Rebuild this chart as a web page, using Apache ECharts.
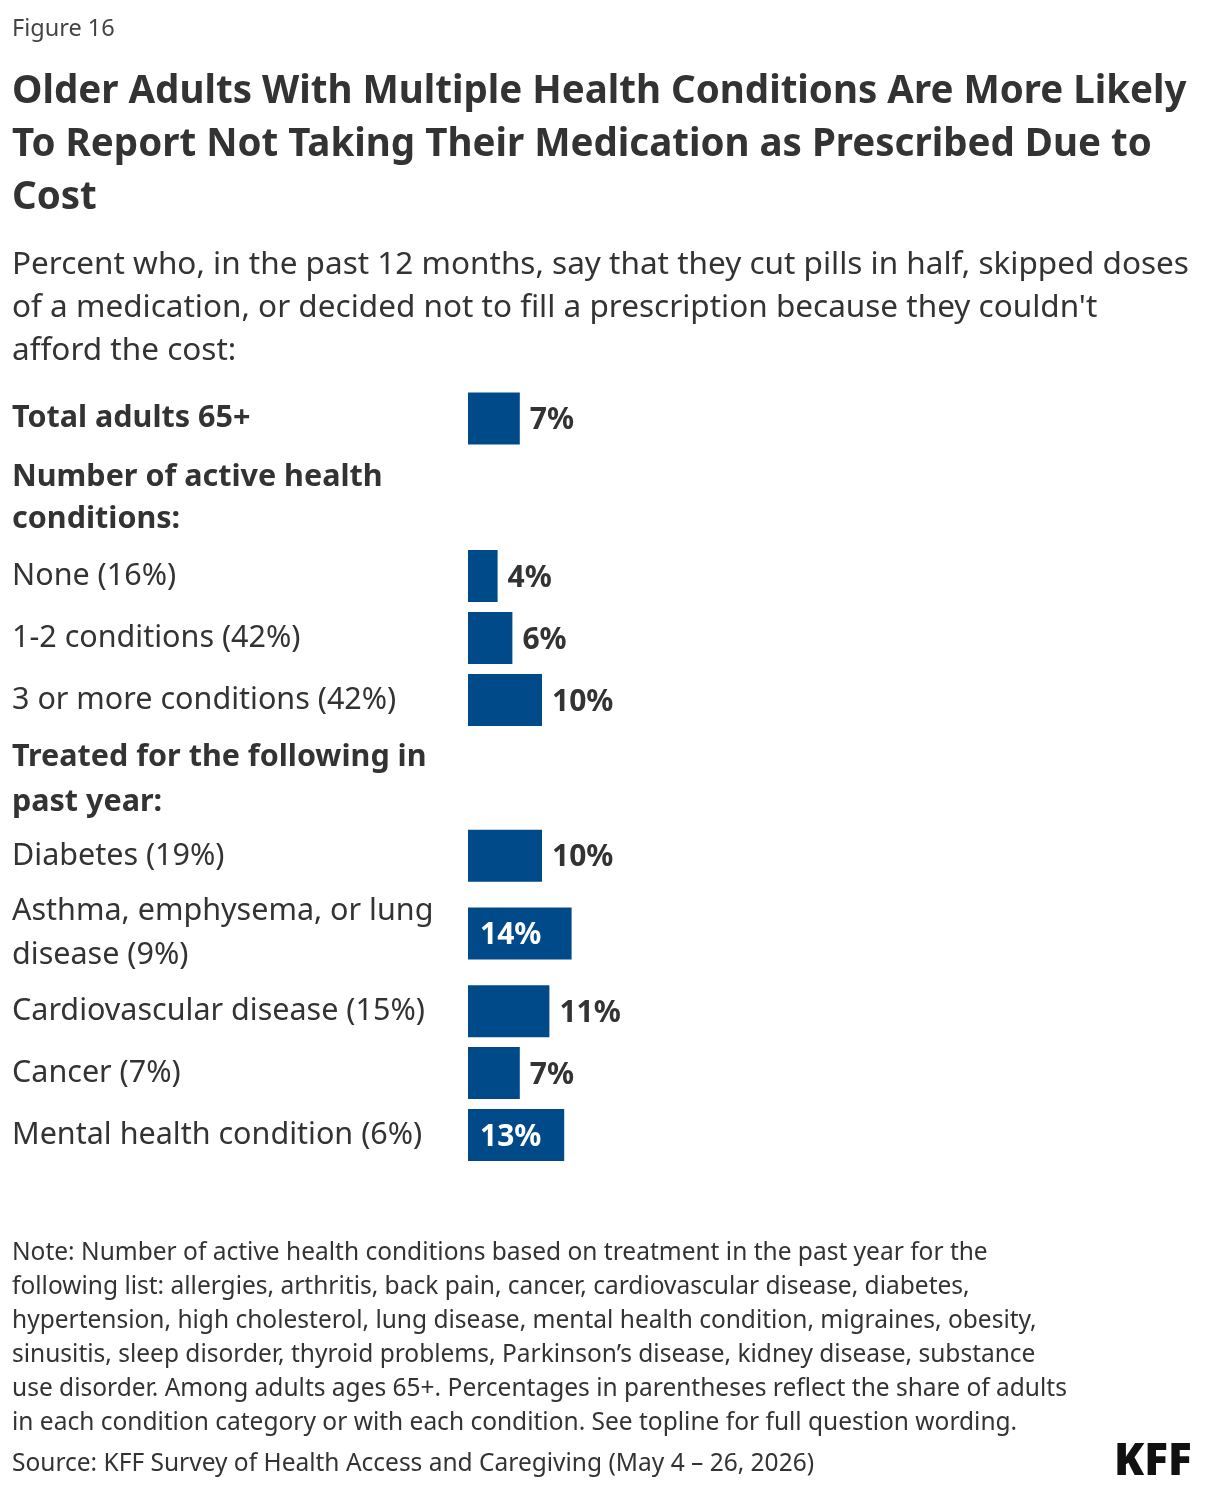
<!DOCTYPE html>
<html><head><meta charset="utf-8">
<script src="https://cdn.jsdelivr.net/npm/echarts@6/dist/echarts.min.js"></script>
<style>html,body{margin:0;background:#fff}#c{width:1220px;height:1490px}</style>
</head><body><div id="c"></div>
<script>
const totalCats = ['Total adults 65+'];
const totalVals = [7];
const condCats = ['None (16%)', '1-2 conditions (42%)', '3 or more conditions (42%)'];
const condVals = [4, 6, 10];
const treatCatsA = ['Diabetes (19%)', 'Asthma, emphysema, or lung\ndisease (9%)', 'Cardiovascular disease (15%)'];
const treatValsA = [10, 14, 11];
const treatCatsB = ['Cancer (7%)', 'Mental health condition (6%)'];
const treatValsB = [7, 13];
const insideThreshold = 12;

const F = '"Noto Sans", sans-serif';
const C = '#004A8A';
const chart = echarts.init(document.getElementById('c'));
const grids = [
  {left: 468, width: 740, top: 392, height: 53},
  {left: 468, width: 740, top: 545, height: 186},
  {left: 468, width: 740, top: 817, height: 233},
  {left: 468, width: 740, top: 1042, height: 124}
];
function mkData(vals){
  return vals.map(v => v >= insideThreshold ?
    {value: v, label: {position: 'insideLeft', color: '#fff', offset:[2,2]}} : {value: v});
}
const allCats = [totalCats, condCats, treatCatsA, treatCatsB];
const series = [totalVals, condVals, treatValsA, treatValsB].map((vals, i) => ({
  type: 'bar', xAxisIndex: i, yAxisIndex: i, data: mkData(vals), barWidth: 52,
  itemStyle: {color: C}, silent: true,
  label: {show: true, position: 'right', distance: 10, offset: [0, 2], formatter: '{c}%', fontFamily: F, fontWeight: 'bold', fontSize: 30, color: '#333'}
}));
const txt = (x, y, t, s, w, c) => ({type: 'text', left: x, top: y, style: {text: t, font: `${w||'normal'} ${s}px ${F}`, fill: c||'#333', lineHeight: s*1.4}});
chart.setOption({
  animation: false,
  grid: grids,
  xAxis: grids.map((g, i) => ({gridIndex: i, type: 'value', min: 0, max: 100, show: false})),
  yAxis: allCats.map((cats, i) => ({
    gridIndex: i, type: 'category', inverse: true, data: cats,
    axisLine: {show: false}, axisTick: {show: false},
    axisLabel: {align: 'left', margin: 456, fontFamily: F, fontSize: 30.5, color: '#333', lineHeight: 44,
      padding: [4, 0, 0, 0], fontWeight: i === 0 ? 'bold' : 'normal'}
  })),
  series,
  graphic: [
    txt(12, 13, 'Figure 16', 23.5, 'normal', '#444'),
    {type: 'text', left: 12, top: 66, style: {text: 'Older Adults With Multiple Health Conditions Are More Likely\nTo Report Not Taking Their Medication as Prescribed Due to\nCost', font: `bold 38.5px ${F}`, fill: '#333', lineHeight: 53}},
    {type: 'text', left: 12, top: 244, style: {text: "Percent who, in the past 12 months, say that they cut pills in half, skipped doses\nof a medication, or decided not to fill a prescription because they couldn't\nafford the cost:", font: `normal 31.5px ${F}`, fill: '#333', lineHeight: 43}},
    {type: 'text', left: 12, top: 456, style: {text: 'Number of active health\nconditions:', font: `bold 30.5px ${F}`, fill: '#333', lineHeight: 42}},
    {type: 'text', left: 12, top: 735, style: {text: 'Treated for the following in\npast year:', font: `bold 30.5px ${F}`, fill: '#333', lineHeight: 45}},
    {type: 'text', left: 12, top: 1236, style: {text: 'Note: Number of active health conditions based on treatment in the past year for the\nfollowing list: allergies, arthritis, back pain, cancer, cardiovascular disease, diabetes,\nhypertension, high cholesterol, lung disease, mental health condition, migraines, obesity,\nsinusitis, sleep disorder, thyroid problems, Parkinson\u2019s disease, kidney disease, substance\nuse disorder. Among adults ages 65+. Percentages in parentheses reflect the share of adults\nin each condition category or with each condition. See topline for full question wording.', font: `normal 24.5px ${F}`, fill: '#333', lineHeight: 34}},
    txt(12, 1447, 'Source: KFF Survey of Health Access and Caregiving (May 4 \u2013 26, 2026)', 24.5, 'normal', '#333'),
    txt(1114, 1432, 'KFF', 44, '900', '#111')
  ]
});
</script></body></html>
